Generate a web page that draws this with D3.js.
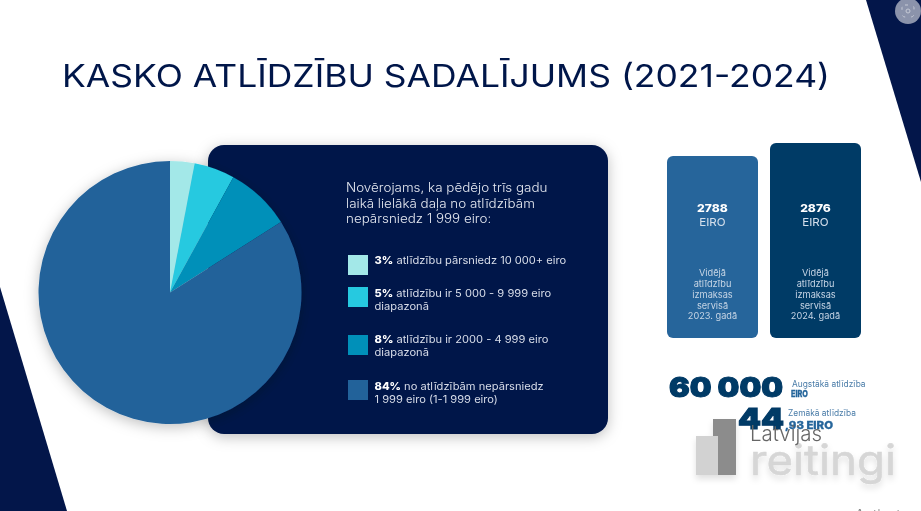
<!DOCTYPE html>
<html><head><meta charset="utf-8">
<script src="https://d3js.org/d3.v7.min.js"></script>
<style>html,body{margin:0;padding:0;background:#fff;overflow:hidden}svg{display:block}text{font-family:Inter,"Open Sans",sans-serif}</style>
</head><body><div id="c"></div>
<script>
const titleText = "KASKO ATLĪDZĪBU SADALĪJUMS (2021-2024)";
const introLines = ["Novērojams, ka pēdējo trīs gadu","laikā lielākā daļa no atlīdzībām","nepārsniedz 1 999 eiro:"];
const shareValues = [3,5,8,84];
const shareColors = ["#a3e8e8","#26c9e0","#0090b9","#24629a"];
const shareBold = ["3%","5%","8%","84%"];
const shareFirst = [" atlīdzību pārsniedz 10 000+ eiro"," atlīdzību ir 5 000 - 9 999 eiro"," atlīdzību ir 2000 - 4 999 eiro"," no atlīdzībām nepārsniedz"];
const shareSecond = ["","diapazonā","diapazonā","1 999 eiro (1-1 999 eiro)"];
const cardValues = ["2788","2876"];
const cardYears = ["2023. gadā","2024. gadā"];
const cardColors = ["#28659b","#023a66"];
const navy = "#03164a";

const svg = d3.select("#c").append("svg").attr("width",921).attr("height",511);
const defs = svg.append("defs");
const f = defs.append("filter").attr("id","sh").attr("x","-20%").attr("y","-20%").attr("width","140%").attr("height","140%");
f.append("feDropShadow").attr("dx",0).attr("dy",3).attr("stdDeviation",7).attr("flood-color","#000").attr("flood-opacity",0.25);
const blur = defs.append("filter").attr("id","bl").attr("x","-10%").attr("y","-10%").attr("width","120%").attr("height","130%");
blur.append("feDropShadow").attr("dx",0).attr("dy",4).attr("stdDeviation",3).attr("flood-color","#000").attr("flood-opacity",0.12);
const soft = defs.append("filter").attr("id","soft");
soft.append("feGaussianBlur").attr("stdDeviation",0.35);

function widen(sel,k){ sel.each(function(){ const w=this.getComputedTextLength(); if(w>0){ this.setAttribute("textLength",w*k); this.setAttribute("lengthAdjust","spacingAndGlyphs"); } }); return sel; }

// corner shapes
svg.append("path").attr("d",d3.line()([[866,0],[921,0],[921,182]])).attr("fill",navy);
svg.append("path").attr("d",d3.line()([[0,287],[67,511],[0,511]])).attr("fill",navy);
// icon
svg.append("circle").attr("cx",908).attr("cy",11).attr("r",13).attr("fill","#8b93ab");
svg.append("rect").attr("x",902).attr("y",5).attr("width",12).attr("height",12).attr("rx",3).attr("fill","none").attr("stroke","#c6cad6").attr("stroke-dasharray","3 6");
svg.append("circle").attr("cx",908).attr("cy",11).attr("r",2).attr("fill","none").attr("stroke","#c6cad6");

const page = svg.append("g").attr("filter","url(#soft)");
// title
page.append("text").attr("x",62).attr("y",87).attr("textLength",768).attr("lengthAdjust","spacingAndGlyphs")
  .attr("font-size",31).attr("font-weight",400).attr("fill",navy).text(titleText);

// panel
page.append("rect").attr("x",208).attr("y",145).attr("width",400).attr("height",289).attr("rx",16).attr("fill",navy).attr("filter","url(#sh)");

// pie
const pie = d3.pie().sort(null).startAngle(0).endAngle(2*Math.PI);
const arc = d3.arc().innerRadius(0).outerRadius(131.5);
const gp = page.append("g").attr("transform","translate(170,292.5)").attr("filter","url(#sh)");
gp.selectAll("path").data(pie(shareValues)).join("path").attr("d",arc).attr("fill",(d,i)=>shareColors[i]);

// intro
widen(page.append("g").selectAll("text").data(introLines).join("text")
  .attr("x",346).attr("y",(d,i)=>192+i*15.5).attr("font-size",12.6).attr("font-weight",300).attr("fill","#e4e8f0").text(d=>d),1.065);

// legend
const legY = [255,287,335,380];
const textY = [264,297,343,390];
const lg = page.append("g").selectAll("g").data(shareValues).join("g");
lg.append("rect").attr("x",348).attr("y",(d,i)=>legY[i]).attr("width",20).attr("height",20).attr("fill",(d,i)=>shareColors[i]);
const t1 = lg.append("text").attr("x",374.5).attr("y",(d,i)=>textY[i]).attr("font-size",10.6).attr("fill","#d8deea");
t1.append("tspan").attr("font-weight",800).attr("fill","#fff").text((d,i)=>shareBold[i]);
t1.append("tspan").text((d,i)=>shareFirst[i]);
widen(t1,1.05);
widen(lg.append("text").attr("x",374.5).attr("y",(d,i)=>textY[i]+12.5).attr("font-size",10.6).attr("fill","#d8deea").text((d,i)=>shareSecond[i]),1.05);

// cards
const cardX=[667,770], cardTop=[156,143];
const cg = page.append("g").selectAll("g").data(cardValues).join("g");
cg.append("rect").attr("x",(d,i)=>cardX[i]).attr("y",(d,i)=>cardTop[i]).attr("width",91).attr("height",(d,i)=>338-cardTop[i]).attr("rx",6).attr("fill",(d,i)=>cardColors[i]);
widen(cg.append("text").attr("x",(d,i)=>cardX[i]+45.5).attr("y",212).attr("text-anchor","middle").attr("font-size",11).attr("font-weight",800).attr("fill","#fff").text(d=>d),1.1);
widen(cg.append("text").attr("x",(d,i)=>cardX[i]+45.5).attr("y",226).attr("text-anchor","middle").attr("font-size",11).attr("fill","#d5e0ec").text("EIRO"),1.05);
const cardLines = ["Vidējā","atlīdzību","izmaksas","servisā"];
const cardLineY = [276,287,298,308.5];
cardLines.forEach((l,k)=>{
  cg.append("text").attr("x",(d,i)=>cardX[i]+45.5).attr("y",cardLineY[k]).attr("text-anchor","middle").attr("font-size",9.2).attr("fill","#c5d5e5").text(l);
});
cg.append("text").attr("x",(d,i)=>cardX[i]+45.5).attr("y",319).attr("text-anchor","middle").attr("font-size",9.2).attr("fill","#c5d5e5").text((d,i)=>cardYears[i]);

// watermark
const wm = page.append("g").attr("filter","url(#bl)");
wm.append("rect").attr("x",696).attr("y",436).attr("width",22).attr("height",39).attr("fill","#d2d2d2");
wm.append("rect").attr("x",713).attr("y",419).attr("width",23).attr("height",17).attr("fill","#8c8c8c");
wm.append("rect").attr("x",718).attr("y",436).attr("width",18).attr("height",39).attr("fill","#8c8c8c");
wm.append("text").attr("x",750).attr("y",475).attr("textLength",146).attr("lengthAdjust","spacingAndGlyphs").attr("font-size",42).attr("font-family","Open Sans").attr("fill","#d6d6d6").attr("stroke","#d6d6d6").attr("stroke-width",0.6).text("reitingi");

// stats
page.append("text").attr("x",669).attr("y",397).attr("textLength",114).attr("lengthAdjust","spacingAndGlyphs").attr("font-size",27).attr("font-weight",900).attr("fill","#023a66").attr("stroke","#023a66").attr("stroke-width",1).text("60 000");
page.append("text").attr("x",792).attr("y",386.5).attr("font-size",8.4).attr("fill","#4a7ca8").text("Augstākā atlīdzība");
page.append("text").attr("x",791).attr("y",397).attr("textLength",17).attr("lengthAdjust","spacingAndGlyphs").attr("font-size",9.5).attr("font-weight",800).attr("fill","#25659b").attr("stroke","#25659b").attr("stroke-width",0.3).text("EIRO");
page.append("text").attr("x",738).attr("y",429).attr("textLength",46).attr("lengthAdjust","spacingAndGlyphs").attr("font-size",28).attr("font-weight",900).attr("fill","#023a66").attr("stroke","#023a66").attr("stroke-width",1).text("44");
page.append("text").attr("x",788).attr("y",416).attr("font-size",8.4).attr("fill","#4a7ca8").text("Zemākā atlīdzība");
page.append("text").attr("x",785).attr("y",429).attr("textLength",48).attr("lengthAdjust","spacingAndGlyphs").attr("font-size",10).attr("font-weight",800).attr("fill","#25659b").attr("stroke","#25659b").attr("stroke-width",0.3).text(",93 EIRO");
page.append("text").attr("x",750).attr("y",441).attr("textLength",72).attr("lengthAdjust","spacingAndGlyphs").attr("font-family","Lato").attr("font-weight",300).attr("font-size",21).attr("fill","#666").text("Latvijas");
page.append("text").attr("x",855).attr("y",520).attr("font-size",14).attr("fill","#888").text("Activate");
</script></body></html>
